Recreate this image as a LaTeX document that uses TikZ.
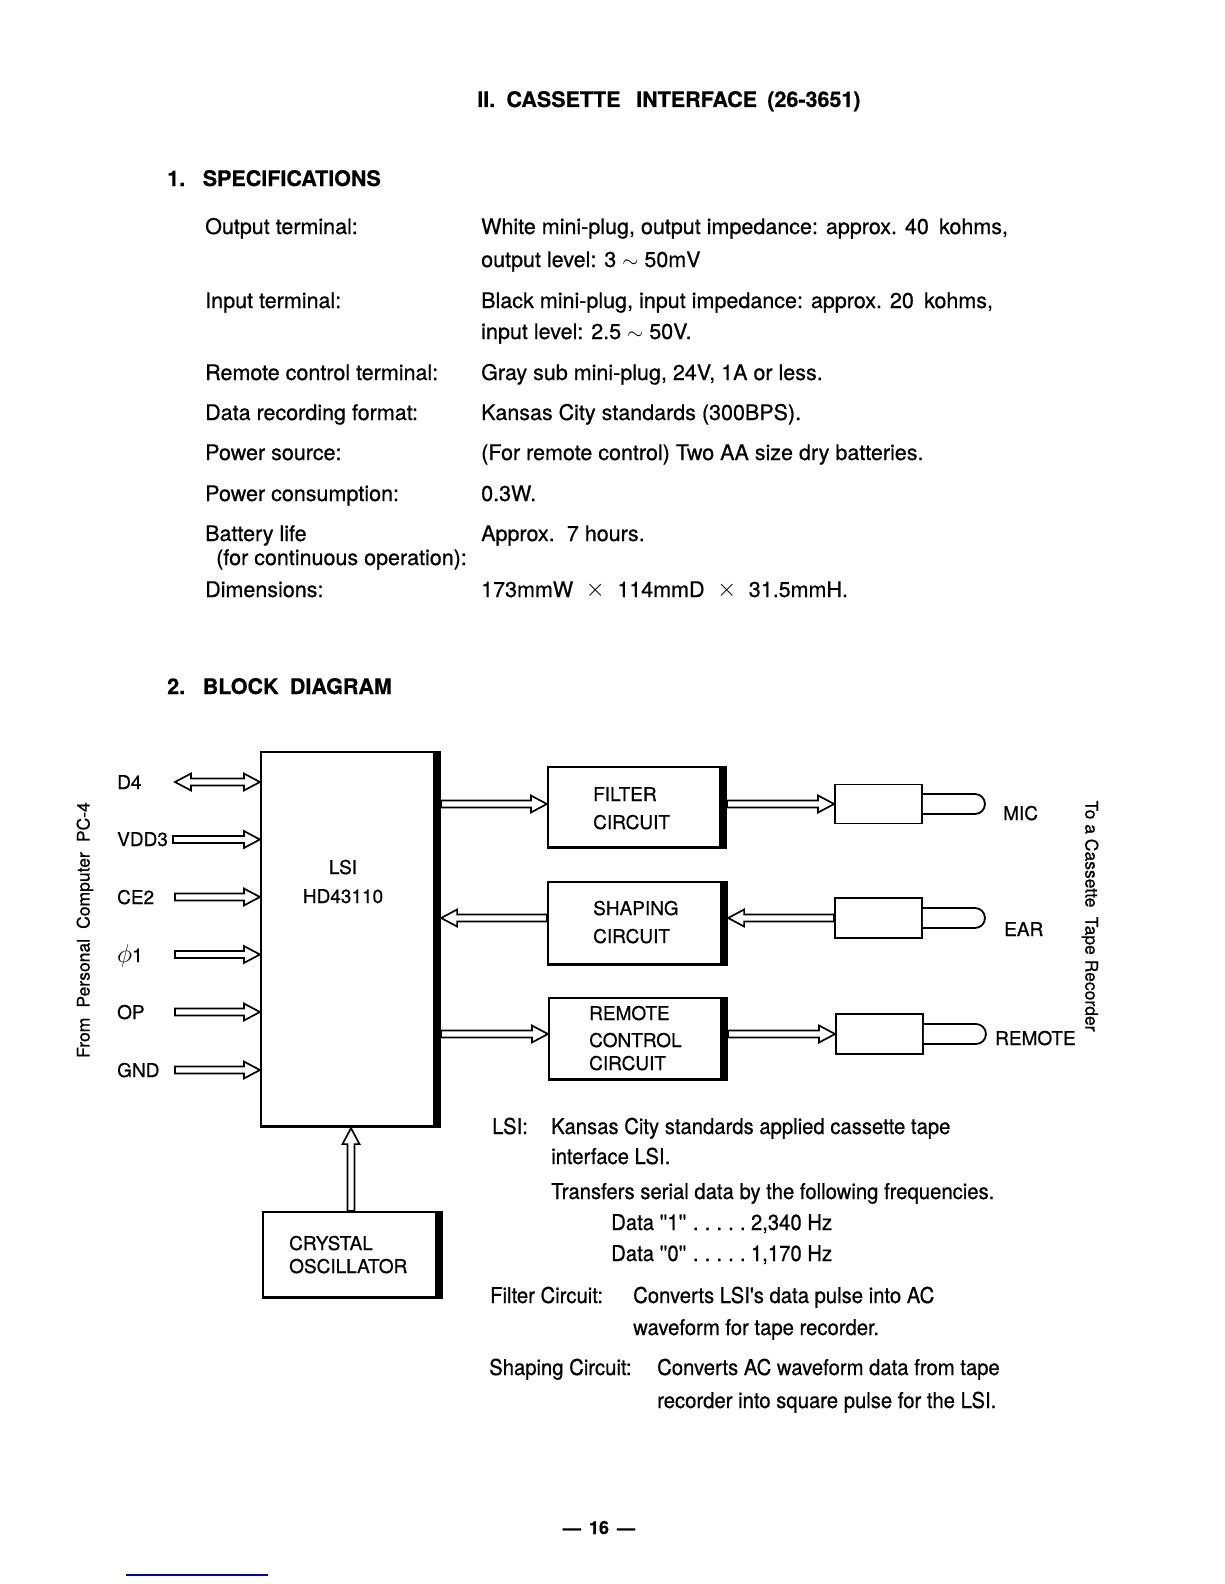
\documentclass[tikz,border=0pt]{standalone}
\usepackage{fontspec}
\setmainfont{TeX Gyre Heros}[FakeBold=0.6]
\newfontfamily\narrowf{TeX Gyre Heros}[FakeStretch=0.93, FakeBold=0.6]
\usetikzlibrary{calc}
% horizontal hollow arrow: #1 tail, #2 tip, #3 = 1 (tip right) or -1 (tip left)
\newcommand\harr[3]{\draw[conn] let \p1=(#1), \p2=(#2), \n1={\x2-#3*16pt} in
  (\x1,\y1+3.5pt) -- (\n1,\y1+3.5pt) -- (\n1,\y1+8.5pt) -- (\x2,\y1)
  -- (\n1,\y1-8.5pt) -- (\n1,\y1-3.5pt) -- (\x1,\y1-3.5pt) -- cycle;}
% double headed hollow arrow, #1 left end, #2 right end
\newcommand\darr[2]{\draw[conn] let \p1=(#1), \p2=(#2) in
  (\x1,\y1) -- (\x1+16pt,\y1+8.5pt) -- (\x1+16pt,\y1+3.5pt) -- (\x2-16pt,\y1+3.5pt)
  -- (\x2-16pt,\y1+8.5pt) -- (\x2,\y1) -- (\x2-16pt,\y1-8.5pt) -- (\x2-16pt,\y1-3.5pt)
  -- (\x1+16pt,\y1-3.5pt) -- (\x1+16pt,\y1-8.5pt) -- cycle;}
% vertical hollow arrow pointing up on the page: #1 tail (below), #2 tip
\newcommand\varr[2]{\draw[conn] let \p1=(#1), \p2=(#2) in
  (\x1-3.5pt,\y1) -- (\x1-3.5pt,\y2-16pt) -- (\x1-8.5pt,\y2-16pt) -- (\x1,\y2)
  -- (\x1+8.5pt,\y2-16pt) -- (\x1+3.5pt,\y2-16pt) -- (\x1+3.5pt,\y1) -- cycle;}
% heavy right and bottom edges of a block
\newcommand\heavy[3]{\fill ([xshift=-#2]#1.north east) rectangle (#1.south east);
  \fill ([yshift=#3]#1.south west) rectangle (#1.south east);}
% plug tip
\newcommand\plugtip[1]{\draw[line width=1.8pt, fill=white] ([yshift=10pt]#1.east) -- ++(52,0)
  arc[start angle=90, end angle=-90, radius=10pt] -- ([yshift=-10pt]#1.east);}
\newcommand\tms{\raisebox{0.5pt}{\fontsize{24}{24}\selectfont$\times$}}
\newcommand\fivedots{.\hspace{0.28em}.\hspace{0.28em}.\hspace{0.28em}.\hspace{0.28em}.}
\begin{document}
\begin{tikzpicture}[x=1pt, y=-1pt,
  txt/.style={anchor=base west, inner sep=0pt, font=\fontsize{21.5}{26}\selectfont},
  hd/.style={anchor=base west, inner sep=0pt, font=\fontsize{21.5}{26}\selectfont\bfseries},
  lbl/.style={anchor=base west, inner sep=0pt, font=\fontsize{19}{22}\selectfont},
  note/.style={anchor=base west, inner sep=0pt, font=\fontsize{21.8}{26}\selectfont\narrowf},
  side/.style={inner sep=0pt, font=\fontsize{17.5}{20}\selectfont},
  blk/.style={draw, line width=2.2pt, inner sep=0pt, rectangle},
  plugb/.style={draw, line width=1.9pt, inner sep=0pt, rectangle, minimum width=87pt, minimum height=39pt},
  conn/.style={line width=1.7pt, fill=white, line join=miter}]
\fill[white] (0,0) rectangle (1224,1584);
\useasboundingbox (0,0) rectangle (1224,1584);

% ---------- headings ----------
\node[hd] (title) at (477,107) {II.\hspace{0.25em} CASSETTE\hspace{0.45em} INTERFACE\hspace{0.2em} (26-3651)};
\node[hd] (sec1) at (167,186) {1.\hspace{0.45em} SPECIFICATIONS};

% ---------- specifications ----------
\node[txt] (k1) at (205,234) {Output terminal:};
\node[txt] (v1a) at (481,234) {White mini-plug, output impedance: approx. 40\hspace{0.2em} kohms,};
\node[txt] (v1b) at (481,267) {output level: 3 $\sim$ 50mV};
\node[txt] (k2) at (205,308) {Input terminal:};
\node[txt] (v2a) at (481,308) {Black mini-plug, input impedance: approx. 20\hspace{0.2em} kohms,};
\node[txt] (v2b) at (481,339) {input level: 2.5 $\sim$ 50V.};
\node[txt] (k3) at (205,380) {Remote control terminal:};
\node[txt] (v3) at (481,380) {Gray sub mini-plug, 24V, 1A or less.};
\node[txt] (k4) at (205,420) {Data recording format:};
\node[txt] (v4) at (481,420) {Kansas City standards (300BPS).};
\node[txt] (k5) at (205,460) {Power source:};
\node[txt] (v5) at (481,460) {(For remote control) Two AA size dry batteries.};
\node[txt] (k6) at (205,501) {Power consumption:};
\node[txt] (v6) at (481,501) {0.3W.};
\node[txt] (k7) at (205,541) {Battery life};
\node[txt] (k7b) at (216,565) {(for continuous operation):};
\node[txt] (v7) at (481,541) {Approx.\hspace{0.2em} 7 hours.};
\node[txt] (k8) at (205,597) {Dimensions:};
\node[txt] (v8) at (481,597) {173mmW\hspace{0.3em} \tms\hspace{0.3em} 114mmD\hspace{0.3em} \tms\hspace{0.3em} 31.5mmH.};

\node[hd] (sec2) at (167,694) {2.\hspace{0.45em} BLOCK\hspace{0.25em} DIAGRAM};

% ---------- block diagram ----------
\node[blk, minimum width=179pt, minimum height=375pt] (lsi) at (350.5,939.5) {};
\heavy{lsi}{8pt}{3.5pt}
\node[lbl, anchor=base] (lsit1) at (343,874) {LSI};
\node[lbl, anchor=base] (lsit2) at (343,903) {HD43110};

\node[blk, minimum width=178pt, minimum height=81pt] (filter) at (637,807.5) {};
\heavy{filter}{8pt}{3pt}
\node[lbl] (ft1) at (593,801) {FILTER};
\node[lbl] (ft2) at (593,829) {CIRCUIT};

\node[blk, minimum width=179pt, minimum height=83pt] (shaping) at (637.5,923.5) {};
\heavy{shaping}{8pt}{3pt}
\node[lbl] (st1) at (593,915) {SHAPING};
\node[lbl] (st2) at (593,943) {CIRCUIT};

\node[blk, minimum width=178pt, minimum height=82pt] (remote) at (638,1039) {};
\heavy{remote}{8pt}{3pt}
\node[lbl] (rt1) at (589,1020) {REMOTE};
\node[lbl] (rt2) at (589,1047) {CONTROL};
\node[lbl] (rt3) at (589,1070) {CIRCUIT};

\node[blk, minimum width=179pt, minimum height=86pt] (crystal) at (352.5,1255) {};
\heavy{crystal}{8pt}{3pt}
\node[lbl] (ct1) at (289,1250) {CRYSTAL};
\node[lbl] (ct2) at (289,1273) {OSCILLATOR};

% plugs
\node[plugb] (mplug) at (878.5,804) {};
\plugtip{mplug}
\node[plugb, minimum height=40pt] (eplug) at (878.5,918) {};
\plugtip{eplug}
\node[plugb, minimum height=40pt] (rplug) at (879.5,1034) {};
\plugtip{rplug}
\node[lbl] (mic) at (1003,820) {MIC};
\node[lbl] (ear) at (1004,936) {EAR};
\node[lbl] (rem) at (995,1045) {REMOTE};

% left inputs
\node[lbl] (lD4) at (117,789) {D4};
\node[lbl] (lVDD) at (117,846) {VDD3};
\node[lbl] (lCE) at (117,904) {CE2};
\node[lbl] (lPHI) at (117,962) {\scalebox{1.5}{$\phi$}1};
\node[lbl] (lOP) at (117,1019) {OP};
\node[lbl] (lGND) at (117,1077) {GND};
\coordinate (sD4) at (175,782);
\coordinate (sVDD) at (173,839.5);
\coordinate (sCE) at (175,897);
\coordinate (sPHI) at (175,954.5);
\coordinate (sOP) at (175,1012);
\coordinate (sGND) at (175,1070);
\darr{sD4}{lsi.west |- sD4}
\harr{sVDD}{lsi.west |- sVDD}{1}
\harr{sCE}{lsi.west |- sCE}{1}
\harr{sPHI}{lsi.west |- sPHI}{1}
\harr{sOP}{lsi.west |- sOP}{1}
\harr{sGND}{lsi.west |- sGND}{1}

% right side connectors
\harr{lsi.east |- mplug}{filter.west |- mplug}{1}
\harr{filter.east |- mplug}{mplug.west}{1}
\harr{eplug.west}{shaping.east |- eplug}{-1}
\harr{shaping.west |- eplug}{lsi.east |- eplug}{-1}
\harr{lsi.east |- rplug}{remote.west |- rplug}{1}
\harr{remote.east |- rplug}{rplug.west}{1}
\coordinate (xc) at (351,0);
\varr{crystal.north -| xc}{lsi.south -| xc}

% side captions
\node[side, rotate=90] (from) at (85,930) {From\hspace{0.3em} Personal\hspace{0.3em} Computer\hspace{0.3em} PC-4};
\node[side, rotate=-90] (to) at (1090,916) {To a Cassette\hspace{0.25em} Tape Recorder};

% ---------- notes ----------
\node[note] (n1) at (492,1134) {LSI:};
\node[note] (n1a) at (551,1134) {Kansas City standards applied cassette tape};
\node[note] (n1b) at (551,1164) {interface LSI.};
\node[note] (n1c) at (551,1199) {Transfers serial data by the following frequencies.};
\node[note] (n1d) at (611,1230) {Data ''1''\hspace{0.3em}\fivedots\hspace{0.25em}2,340 Hz};
\node[note] (n1e) at (611,1261) {Data ''0''\hspace{0.3em}\fivedots\hspace{0.25em}1,170 Hz};
\node[note] (n2) at (490,1303) {Filter Circuit:};
\node[note] (n2a) at (633,1303) {Converts LSI's data pulse into AC};
\node[note] (n2b) at (633,1335) {waveform for tape recorder.};
\node[note] (n3) at (489,1375) {Shaping Circuit:};
\node[note] (n3a) at (657,1375) {Converts AC waveform data from tape};
\node[note] (n3b) at (657,1408) {recorder into square pulse for the LSI.};

% ---------- footer ----------
\node[inner sep=0pt, anchor=base, font=\fontsize{18}{20}\selectfont\bfseries] (page) at (599,1534) {---\hspace{0.45em}16\hspace{0.45em}---};
\draw[line width=1.5pt, blue!75!black] (126,1575) coordinate (bl1) -- (268,1575) coordinate (bl2);
\end{tikzpicture}
\end{document}
